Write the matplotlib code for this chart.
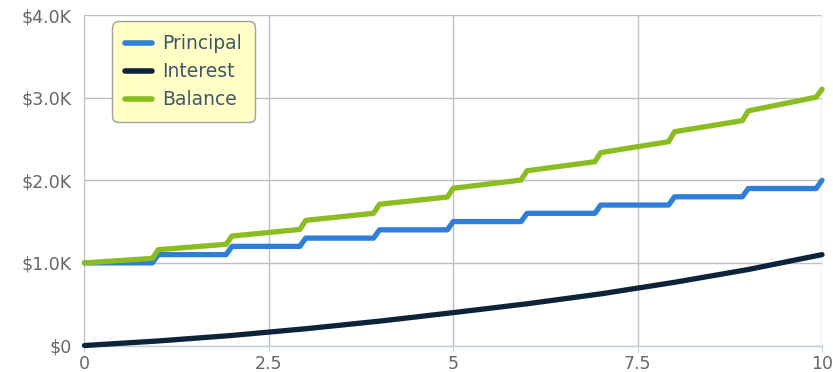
import matplotlib.pyplot as plt
from matplotlib.ticker import FuncFormatter

# year positions (deposit ramps happen just before each whole year)
principal_x = [0, 0.92, 1.0, 1.92, 2.0, 2.92, 3.0, 3.92, 4.0, 4.92, 5.0,
               5.92, 6.0, 6.92, 7.0, 7.92, 8.0, 8.92, 9.0, 9.92, 10.0]
principal = [1000, 1000, 1100, 1100, 1200, 1200, 1300, 1300, 1400, 1400, 1500,
             1500, 1600, 1600, 1700, 1700, 1800, 1800, 1900, 1900, 2000]

interest_x = [0, 1, 2, 3, 4, 5, 6, 7, 8, 9, 10]
interest = [0, 55, 122, 203, 295, 398, 505, 625, 765, 920, 1100]

balance_x = principal_x
balance = [1000, 1055, 1160, 1225, 1325, 1405, 1515, 1600, 1710, 1797, 1903,
           2003, 2115, 2225, 2335, 2467, 2588, 2722, 2840, 3005, 3102]

xticks = [0, 2.5, 5, 7.5, 10]
yticks = [0, 1000, 2000, 3000, 4000]


def money(v, pos):
    if v == 0:
        return "$0"
    return "${:.1f}K".format(v / 1000)


fig = plt.figure(figsize=(8.33, 3.72), dpi=100)
ax = fig.add_axes([0.1014, 0.0712, 0.8854, 0.8884])

lw = 3.8
ax.plot(principal_x, principal, color="#2F7ED8", lw=lw, label="Principal",
        solid_joinstyle="round", solid_capstyle="round", clip_on=False, zorder=3)
ax.plot(interest_x, interest, color="#0D233A", lw=lw, label="Interest",
        solid_joinstyle="round", solid_capstyle="round", clip_on=False, zorder=3)
ax.plot(balance_x, balance, color="#8BBC21", lw=lw, label="Balance",
        solid_joinstyle="round", solid_capstyle="round", clip_on=False, zorder=4)

ax.set_xlim(0, 10)
ax.set_ylim(0, 4000)
ax.set_xticks(xticks)
ax.set_xticklabels(["0", "2.5", "5", "7.5", "10"])
ax.set_yticks(yticks)
ax.yaxis.set_major_formatter(FuncFormatter(money))

ax.grid(True, color="#C0C0C0", lw=1)
ax.set_axisbelow(True)
for s in ["top", "right", "left"]:
    ax.spines[s].set_visible(False)
ax.spines["bottom"].set_color("#C0D0E0")
ax.spines["bottom"].set_linewidth(1)

ax.tick_params(axis="y", length=0, pad=9, labelsize=12.5, labelcolor="#666666")
ax.tick_params(axis="x", length=4, color="#C0D0E0", pad=3, labelsize=12.5,
               labelcolor="#666666")

leg = ax.legend(loc="upper left", bbox_to_anchor=(0.0373, 0.982), borderaxespad=0,
                fontsize=13.5, handlelength=1.45, handletextpad=0.53,
                borderpad=0.7, labelspacing=0.48, fancybox=True,
                facecolor="#FFFFC6", edgecolor="#A0A0A0", framealpha=1)
leg.get_frame().set_linewidth(1)
leg.get_frame().set_boxstyle("round", pad=0, rounding_size=0.35)
for t in leg.get_texts():
    t.set_color("#3E576F")
for h in leg.get_lines():
    h.set_linewidth(4)

fig.savefig("out.png", dpi=100)
